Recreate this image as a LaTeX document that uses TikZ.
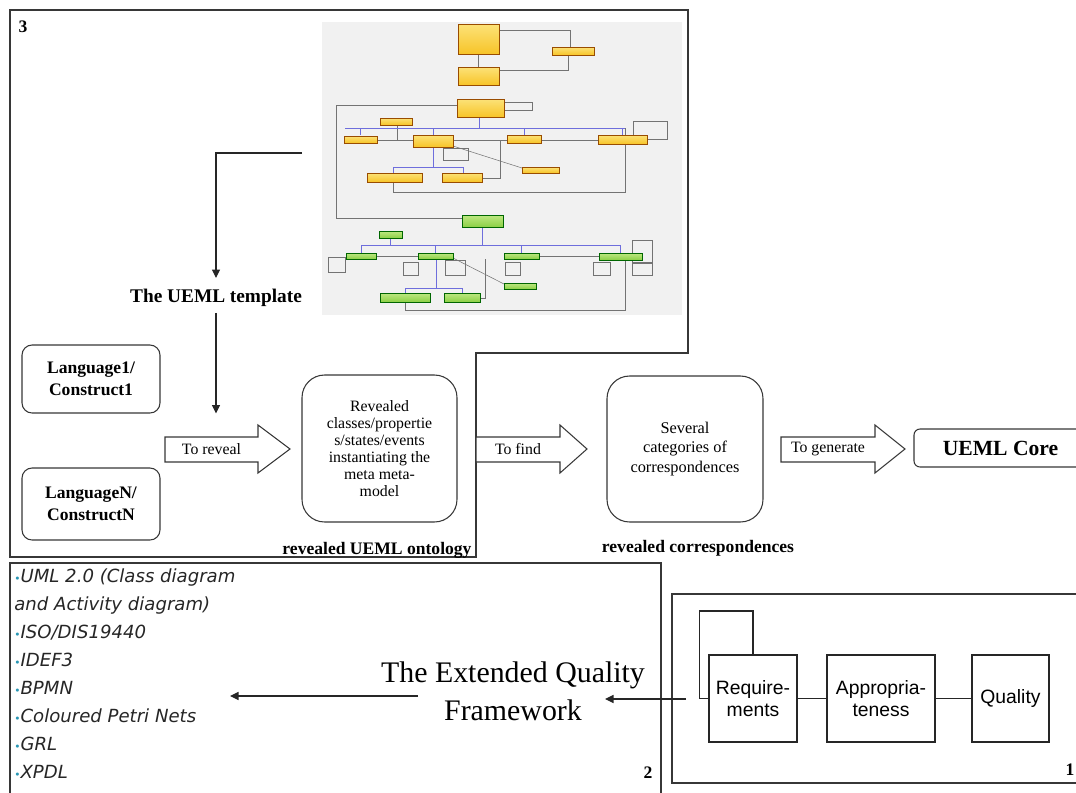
\documentclass[tikz,border=0pt]{standalone}
\usepackage{fontspec}
\setmainfont{Liberation Serif}
\newfontfamily\listfont{DejaVu Sans}
\newfontfamily\boxfont{Liberation Sans}
\usepackage{xcolor}
\usetikzlibrary{arrows.meta}

\definecolor{framegray}{RGB}{55,55,55}
\definecolor{shotbg}{RGB}{241,241,241}
\definecolor{umlyellow}{RGB}{247,196,40}
\definecolor{umlyellowtop}{RGB}{252,226,120}
\definecolor{umlgreen}{RGB}{140,208,70}
\definecolor{umlgreentop}{RGB}{190,232,130}
\definecolor{umlblue}{RGB}{110,110,220}
\definecolor{bulletteal}{RGB}{40,150,180}

\newcommand{\sizept}[2]{\fontsize{#1}{#2}\selectfont}
\newcommand{\bul}{{\color{bulletteal}\sizept{6}{6}\textbullet}}
% block arrow: name, tail x, neck x, tip x, label
\newcommand{\fatarrow}[5]{%
  \draw[fatline] (#2,437) -- (#3,437) -- (#3,425) -- (#4,449) -- (#3,473) -- (#3,462) -- (#2,462) -- cycle;
  \node[armtext] (#1) at ({(#2+#3)/2},449.5) {#5};}

\tikzset{
  frame/.style={draw=framegray, line width=0.8pt},
  roundbox/.style={draw=framegray, line width=0.6pt, rounded corners=0.2cm, fill=white},
  bigroundbox/.style={draw=framegray, line width=0.6pt, rounded corners=0.45cm, fill=white},
  fatline/.style={draw=framegray, line width=0.6pt, fill=white},
  armtext/.style={font=\sizept{9}{10}},
  plainline/.style={draw=black!85, line width=0.6pt},
  thinarrow/.style={draw=black!85, line width=0.6pt, -{Triangle[length=1.7mm,width=1.6mm]}},
  squarebox/.style={draw=black!85, line width=0.6pt, font=\boxfont\sizept{11}{12.5}, align=center, inner sep=0pt},
  framenum/.style={font=\bfseries\sizept{10}{10}},
  listitem/.style={anchor=west, font=\listfont\itshape\sizept{10.3}{12}, text=black!85, inner sep=0pt},
  ybox/.style={draw=orange!60!black, line width=0.25pt, top color=umlyellowtop, bottom color=umlyellow},
  gbox/.style={draw=green!40!black, line width=0.25pt, top color=umlgreentop, bottom color=umlgreen},
  umlline/.style={draw=black!55, line width=0.3pt},
  umlinh/.style={draw=umlblue, line width=0.5pt},
}

\begin{document}
\begin{tikzpicture}[x=0.02cm, y=-0.02cm]
  \useasboundingbox (0,0) rectangle (1076,792);
  \clip (0,0) rectangle (1076,792);

  % panel frames
  \draw[frame] (10,10) -- (688,10) -- (688,353) -- (476,353) -- (476,557) -- (10,557) -- cycle;
  \draw[frame] (10,563) rectangle (661,800);
  \draw[frame] (672,594) rectangle (1100,783);
  \node[framenum] (num3) at (23,27) {3};
  \node[framenum] (num2) at (648,773) {2};
  \node[framenum] (num1) at (1070,770) {1};

  % schematic of the embedded class-diagram screenshot
  \begin{scope}
    \fill[shotbg] (322,22) rectangle (682,315);
    % grey associations
    \draw[umlline] (457,105) -- (336,105) -- (336,218) -- (462,218);
    \draw[umlline] (478,54) -- (478,67);
    \draw[umlline] (499,30) -- (570,30) -- (570,47);
    \draw[umlline] (568,55) -- (568,70) -- (499,70);
    \draw[umlline] (504,102) -- (532,102) -- (532,110) -- (504,110);
    \draw[umlline] (625,128) -- (625,192) -- (393,192) -- (393,182);
    \draw[umlline] (397,125) -- (397,140);
    \draw[umlline] (377,140) -- (413,140);
    \draw[umlline] (453,140) -- (507,140);
    \draw[umlline] (541,140) -- (598,140);
    \draw[umlline] (482,178) -- (500,178) -- (500,140);
    \draw[umlline] (453,146) -- (522,168);
    \draw[umlline] (443,148) rectangle (468,160);
    \draw[umlline] (647,139) -- (667,139) -- (667,121) -- (633,121) -- (633,135);
    \draw[umlline] (453,258) -- (504,284);
    \draw[umlline] (376,256) -- (418,256);
    \draw[umlline] (539,256) -- (599,256);
    \draw[umlline] (485,259) -- (485,298) -- (480,298);
    \draw[umlline] (405,302) -- (405,310) -- (625,310) -- (625,260);
    \foreach \xa/\ya/\xb/\yb in {328/257/345/272, 403/262/418/275, 445/260/465/275,
        505/262/520/275, 593/262/610/275, 632/240/652/262, 632/263/652/275}
      \draw[umlline] (\xa,\ya) rectangle (\xb,\yb);
    % generalisations
    \draw[umlinh] (479,117) -- (479,128);
    \draw[umlinh] (345,128) -- (625,128);
    \foreach \xd in {360,433,524,622}
      \draw[umlinh] (\xd,128) -- (\xd,135);
    \draw[umlinh] (433,147) -- (433,167);
    \draw[umlinh] (393,167) -- (463,167);
    \foreach \xd in {393,463}
      \draw[umlinh] (\xd,167) -- (\xd,173);
    \draw[umlinh] (482,227) -- (482,245);
    \draw[umlinh] (361,245) -- (620,245);
    \draw[umlinh] (390,238) -- (390,245);
    \foreach \xd in {361,435,521,620}
      \draw[umlinh] (\xd,245) -- (\xd,253);
    \draw[umlinh] (436,259) -- (436,288);
    \draw[umlinh] (405,288) -- (462,288);
    \foreach \xd in {405,462}
      \draw[umlinh] (\xd,288) -- (\xd,293);
    % classes
    \foreach \xa/\ya/\xb/\yb in {458/24/499/54, 552/47/594/55, 458/67/499/85, 457/99/504/117,
        380/118/412/125, 344/136/377/143, 413/135/453/147, 507/135/541/143, 598/135/647/144,
        522/167/559/173, 367/173/422/182, 442/173/482/182}
      \draw[ybox] (\xa,\ya) rectangle (\xb,\yb);
    \foreach \xa/\ya/\xb/\yb in {462/215/503/227, 379/231/402/238, 346/253/376/259,
        418/253/453/259, 504/253/539/259, 599/253/642/260, 504/283/536/289,
        380/293/430/302, 444/293/480/302}
      \draw[gbox] (\xa,\ya) rectangle (\xb,\yb);
  \end{scope}

  % panel 3: revealing the ontology
  \coordinate (shotlink) at (302,153);
  \coordinate (tmplin) at (216,278);
  \node[font=\bfseries\sizept{11}{12}] (tmpl) at (216,298) {The UEML template};
  \node[roundbox, minimum width=2.76cm, minimum height=1.36cm, align=center,
        font=\bfseries\sizept{10}{12.3}] (lang1) at (91,379) {Language1/\\Construct1};
  \node[roundbox, minimum width=2.76cm, minimum height=1.44cm, align=center,
        font=\bfseries\sizept{10}{12.3}] (langN) at (91,504) {LanguageN/\\ConstructN};
  \node[bigroundbox, minimum width=3.1cm, minimum height=2.94cm, align=center,
        font=\sizept{9}{9.6}] (reveal) at (379.5,448.5)
        {Revealed\\classes/propertie\\s/states/events\\instantiating the\\meta meta-\\model};
  \node[font=\bfseries\sizept{10}{10}] (ontolabel) at (377,550) {revealed UEML ontology};

  \draw[thinarrow] (shotlink) -| (tmplin);
  \draw[thinarrow] (tmpl.south) -- (tmpl.south |- lang1.south);

  \fatarrow{toreveal}{165}{258}{290}{To reveal}
  \fatarrow{tofind}{476}{560}{587}{To find}
  \fatarrow{togen}{781}{875}{905}{To generate}

  \node[bigroundbox, minimum width=3.12cm, minimum height=2.92cm, align=center,
        font=\sizept{9.3}{11.3}] (several) at (685,449)
        {Several\\categories of\\correspondences};
  \node[font=\bfseries\sizept{10}{10}] (corrlabel) at (698,548) {revealed correspondences};
  \node[roundbox, rounded corners=0.12cm, minimum width=3.46cm, minimum height=0.76cm,
        font=\bfseries\sizept{12.3}{13}] (core) at (1000.5,448) {UEML Core};

  % panel 2: languages
  \node[listitem] (li1) at (14,577) {\bul UML 2.0 (Class diagram};
  \node[listitem] (li2) at (14,605) {and Activity diagram)};
  \node[listitem] (li3) at (14,633) {\bul ISO/DIS19440};
  \node[listitem] (li4) at (14,660) {\bul IDEF3};
  \node[listitem] (li5) at (14,688) {\bul BPMN};
  \node[listitem] (li6) at (14,716) {\bul Coloured Petri Nets};
  \node[listitem] (li7) at (14,744) {\bul GRL};
  \node[listitem] (li8) at (14,772) {\bul XPDL};

  \node[align=center, font=\sizept{17}{21.5}] (qfw) at (513,691) {The Extended Quality\\Framework};
  \coordinate (qfout) at (418,696);
  \coordinate (listtip) at (230,696);
  \draw[thinarrow] (qfout) -- (listtip);

  % panel 1: quality framework
  \node[squarebox, minimum width=1.76cm, minimum height=1.74cm] (req) at (753,698.5) {Require-\\ments};
  \node[squarebox, minimum width=2.16cm, minimum height=1.74cm] (appr) at (881,698.5) {Appropria-\\teness};
  \node[squarebox, minimum width=1.54cm, minimum height=1.74cm] (qual) at (1010.5,698.5) {Quality};
  \draw[plainline] (req.east) -- (appr.west);
  \draw[plainline] (appr.east) -- (qual.west);
  \draw[plainline] (req.west) -- ++(-9,0) -- ++(0,-87.5) -| (req.north);
  \coordinate (qfin) at (686,699);
  \coordinate (qftip) at (605,699);
  \draw[thinarrow] (qfin) -- (qftip);
\end{tikzpicture}
\end{document}
